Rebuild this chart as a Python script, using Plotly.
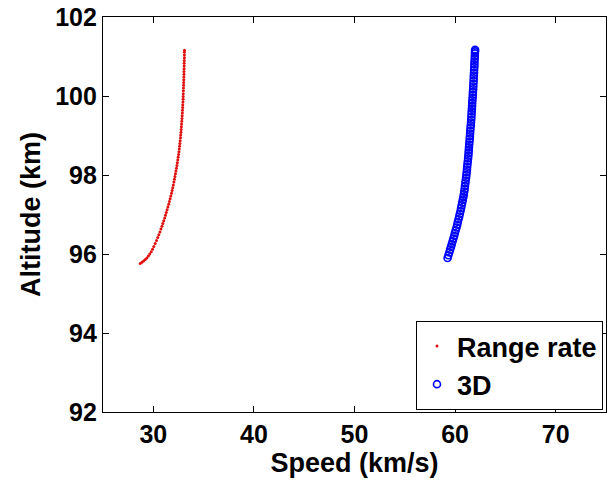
import plotly.graph_objects as go

# Range-rate series (red dots)
rr_speed = [28.70, 28.87, 29.04, 29.20, 29.36, 29.51, 29.65, 29.79, 29.92, 30.05,
            30.19, 30.32, 30.44, 30.55, 30.66, 30.76, 30.86, 30.95, 31.04, 31.13,
            31.21, 31.29, 31.37, 31.45, 31.53, 31.60, 31.67, 31.74, 31.81, 31.87,
            31.93, 31.99, 32.05, 32.10, 32.15, 32.20, 32.25, 32.30, 32.35, 32.39,
            32.43, 32.47, 32.51, 32.55, 32.58, 32.61, 32.64, 32.67, 32.70, 32.72,
            32.75, 32.77, 32.79, 32.81, 32.83, 32.85, 32.87, 32.89, 32.90, 32.92,
            32.93, 32.95, 32.96, 32.97, 32.98, 32.99, 33.00, 33.01, 33.02, 33.03,
            33.04, 33.05, 33.05, 33.06, 33.07, 33.07, 33.08, 33.09, 33.09, 33.10, 33.10]
rr_alt = [95.76, 95.79, 95.82, 95.86, 95.90, 95.95, 96.00, 96.06, 96.12, 96.19,
          96.265, 96.34, 96.415, 96.49, 96.56, 96.63, 96.70, 96.77, 96.84, 96.91,
          96.98, 97.05, 97.12, 97.19, 97.26, 97.33, 97.40, 97.47, 97.54, 97.61,
          97.68, 97.75, 97.82, 97.89, 97.96, 98.03, 98.10, 98.17, 98.24, 98.31,
          98.38, 98.45, 98.52, 98.59, 98.66, 98.73, 98.80, 98.87, 98.94, 99.01,
          99.08, 99.15, 99.22, 99.29, 99.36, 99.43, 99.50, 99.57, 99.64, 99.71,
          99.78, 99.85, 99.92, 99.99, 100.06, 100.13, 100.20, 100.27, 100.34, 100.41,
          100.48, 100.55, 100.62, 100.69, 100.76, 100.83, 100.90, 100.97, 101.04, 101.11, 101.16]

# 3D series (blue circles)
d3_speed = [59.25, 59.33, 59.42, 59.50, 59.59, 59.67, 59.75, 59.83, 59.91, 59.98,
            60.06, 60.14, 60.21, 60.27, 60.34, 60.41, 60.47, 60.54, 60.59, 60.65,
            60.71, 60.76, 60.82, 60.87, 60.91, 60.95, 60.98, 61.02, 61.05, 61.09,
            61.12, 61.15, 61.18, 61.20, 61.23, 61.26, 61.29, 61.32, 61.34, 61.36,
            61.38, 61.40, 61.43, 61.45, 61.47, 61.49, 61.51, 61.53, 61.56, 61.58,
            61.60, 61.62, 61.63, 61.65, 61.67, 61.69, 61.70, 61.72, 61.74, 61.76,
            61.77, 61.79, 61.81, 61.82, 61.84, 61.85, 61.86, 61.88, 61.89, 61.91,
            61.92, 61.93, 61.95, 61.96, 61.97, 61.98, 61.99]
d3_alt = [95.90, 95.97, 96.04, 96.11, 96.18, 96.25, 96.32, 96.39, 96.46, 96.53,
          96.60, 96.67, 96.74, 96.81, 96.88, 96.95, 97.02, 97.09, 97.16, 97.23,
          97.30, 97.37, 97.44, 97.51, 97.58, 97.65, 97.72, 97.79, 97.86, 97.93,
          98.00, 98.07, 98.14, 98.21, 98.28, 98.35, 98.42, 98.49, 98.56, 98.63,
          98.70, 98.77, 98.84, 98.91, 98.98, 99.05, 99.12, 99.19, 99.26, 99.33,
          99.40, 99.47, 99.54, 99.61, 99.68, 99.75, 99.82, 99.89, 99.96, 100.03,
          100.10, 100.17, 100.24, 100.31, 100.38, 100.45, 100.52, 100.59, 100.66, 100.73,
          100.80, 100.87, 100.94, 101.01, 101.08, 101.13, 101.17]

x_ticks = [30, 40, 50, 60, 70]
y_ticks = [92, 94, 96, 98, 100, 102]

FONT = "Liberation Sans, Arial, sans-serif"

fig = go.Figure()
fig.add_trace(go.Scatter(
    x=rr_speed, y=rr_alt, mode="markers", name="<b>Range rate</b>",
    marker=dict(color="#e01010", size=3, symbol="circle"),
))
fig.add_trace(go.Scatter(
    x=d3_speed, y=d3_alt, mode="markers", name="<b>3D</b>",
    marker=dict(color="#0000ff", size=7, symbol="circle-open", line=dict(width=1.6, color="#0000ff")),
))

axis_common = dict(
    showline=True, linecolor="black", linewidth=1.2, mirror="ticks",
    ticks="inside", ticklen=6, tickwidth=1, tickcolor="black",
    showgrid=False, zeroline=False,
    tickfont=dict(family=FONT, size=25, color="black", weight="bold"),
)

fig.update_xaxes(
    range=[25, 75], tickvals=x_ticks, ticktext=[f"<b>{v}</b>" for v in x_ticks],
    title=dict(text="<b>Speed (km/s)</b>", font=dict(family=FONT, size=27, color="black"), standoff=2),
    **axis_common,
)
fig.update_yaxes(
    range=[92, 102], tickvals=y_ticks, ticktext=[f"<b>{v}</b>" for v in y_ticks],
    title=dict(text="<b>Altitude (km)</b>", font=dict(family=FONT, size=27, color="black"), standoff=6),
    **axis_common,
)

fig.update_layout(
    width=611, height=480,
    margin=dict(l=103, r=5, t=17, b=68, autoexpand=False),
    paper_bgcolor="white", plot_bgcolor="white",
    showlegend=True,
    legend=dict(
        x=0.994, y=0.005, xanchor="right", yanchor="bottom",
        bgcolor="white", bordercolor="black", borderwidth=1,
        font=dict(family=FONT, size=27, color="black"),
        tracegroupgap=0, itemwidth=30,
    ),
)

fig.write_html("out.html")
